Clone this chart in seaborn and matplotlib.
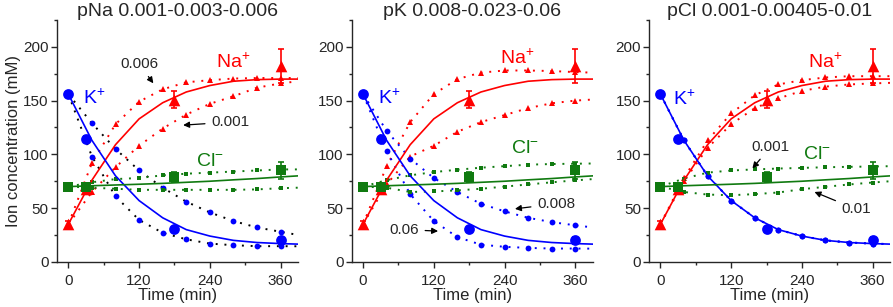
import numpy as np
import pandas as pd
import seaborn as sns
import matplotlib.pyplot as plt
from matplotlib.ticker import MultipleLocator

# model time grid and experimental time points
t_model = [0, 40, 80, 120, 160, 200, 240, 280, 320, 360, 390]
t_exp = [0, 30, 180, 360]

# experimental data (same in every panel)
na_exp = [35, 68, 151, 182]
na_err = [3, 4, 8, 16]
k_exp = [156, 114, 31, 20]
k_err = [0, 0, 0, 3]
cl_exp = [70, 70, 79, 85]
cl_err = [3, 2, 5, 8]

# fitted model (solid lines)
na_fit = [35, 76, 109, 133, 148, 158, 164, 168, 169.5, 170, 170]
k_fit = [156, 113, 80, 57, 41, 30, 24, 20, 18, 17, 16.5]
cl_fit = [70, 70.8, 71.5, 72.2, 73, 74, 75, 76.3, 77.5, 79, 80]

# panel 1: pNa varied
pna_na_hi = [35, 92, 128, 149, 160.5, 167, 169, 170.5, 171, 171, 171]
pna_na_lo = [35, 65, 88, 108, 124, 137, 147, 154, 162, 166, 168]
pna_k_hi = [156, 129, 105, 85, 69, 56, 46, 38, 32, 28, 25]
pna_k_lo = [156, 98, 61, 39, 27, 21, 17, 15.5, 14.6, 14.6, 14.5]
pna_cl_hi = [70, 74, 77, 78, 80.5, 82, 83, 84, 85, 86, 86]
pna_cl_lo = [70, 69, 68, 67, 67, 67, 67, 67, 67.4, 68.5, 69]

# panel 2: pK varied
pk_na_hi = [35, 89, 130, 156, 170, 176, 178, 178, 177.5, 176.5, 176]
pk_na_lo = [35, 72, 98, 108, 121, 130, 136.5, 143, 147.5, 150, 151]
pk_k_hi = [156, 122, 96, 78, 65, 54, 47, 41, 37, 34, 32]
pk_k_lo = [156, 103, 63, 38, 23, 16, 14, 13, 12.4, 12.4, 12.3]
pk_cl_hi = [70, 76, 80.5, 83.5, 85.7, 87.6, 89, 90.4, 91, 91.3, 91.5]
pk_cl_lo = [70, 69, 65, 65.5, 66.5, 68, 70, 72, 74, 75.8, 77]

# panel 3: pCl varied
pcl_na_hi = [35, 78, 113, 138, 155, 165, 169, 171.5, 172.7, 172.7, 172.7]
pcl_na_lo = [35, 75, 106, 128, 143, 152, 159, 163, 165, 166, 166.5]
pcl_k_hi = [156, 113, 80, 57, 41, 30, 24, 20, 18, 17, 16.5]
pcl_k_lo = [156, 113, 80, 57, 41, 30, 24, 20, 18, 17, 16.5]
pcl_cl_hi = [70, 77.5, 83, 85, 86, 86.8, 87.4, 88, 88.4, 88.7, 89]
pcl_cl_lo = [70, 65, 62.6, 62, 63, 64.5, 67.6, 69.8, 72, 73.8, 75]

titles = ["pNa 0.001-0.003-0.006", "pK 0.008-0.023-0.06", "pCl 0.001-0.00405-0.01"]

RED = "#ff0000"
BLUE = "#0000ff"
GREEN = "#107a10"

sns.set_style("ticks")
plt.rcParams['font.family'] = ['Liberation Sans', 'DejaVu Sans']
plt.rcParams['mathtext.fontset'] = 'custom'
plt.rcParams['mathtext.rm'] = 'Liberation Sans'
plt.rcParams['mathtext.it'] = 'Liberation Sans'

fig = plt.figure(figsize=(8.93, 3.07), dpi=100)
lefts = [0.064, 0.394, 0.727]
axes = [fig.add_axes([l, 0.147, 0.27, 0.788]) for l in lefts]

panels = [
    (pna_na_hi, pna_na_lo, pna_k_hi, pna_k_lo, pna_cl_hi, pna_cl_lo, "black"),
    (pk_na_hi, pk_na_lo, pk_k_hi, pk_k_lo, pk_cl_hi, pk_cl_lo, BLUE),
    (pcl_na_hi, pcl_na_lo, pcl_k_hi, pcl_k_lo, pcl_cl_hi, pcl_cl_lo, BLUE),
]

dot_style = (0, (1, 3.5))
mk_idx = list(range(1, 10))

for ax, title, p in zip(axes, titles, panels):
    na_hi, na_lo, k_hi, k_lo, cl_hi, cl_lo, k_dot_color = p

    # dotted sensitivity curves
    for ys, c, lc, m, ms in [(na_hi, RED, RED, '^', 4.5), (na_lo, RED, RED, '^', 4.5),
                             (k_hi, BLUE, k_dot_color, 'o', 4.2), (k_lo, BLUE, k_dot_color, 'o', 4.2),
                             (cl_hi, GREEN, GREEN, 's', 3.5), (cl_lo, GREEN, GREEN, 's', 3.5)]:
        sns.lineplot(x=t_model, y=ys, ax=ax, color=lc, linestyle=dot_style, lw=1.4,
                     marker=m, markevery=mk_idx, markersize=ms, markerfacecolor=c,
                     markeredgecolor=c, markeredgewidth=0, zorder=2)

    # fitted curves
    for ys, c in [(na_fit, RED), (k_fit, BLUE), (cl_fit, GREEN)]:
        sns.lineplot(x=t_model, y=ys, ax=ax, color=c, lw=1.2, zorder=3)

    # experimental data
    for ys, err, c, m, sz in [(na_exp, na_err, RED, '^', 70), (k_exp, k_err, BLUE, 'o', 60),
                              (cl_exp, cl_err, GREEN, 's', 42)]:
        ax.errorbar(t_exp, ys, yerr=err, fmt='none', ecolor=c, elinewidth=1.2,
                    capsize=2.5, capthick=1.2, zorder=4)
        sns.scatterplot(x=t_exp, y=ys, ax=ax, color=c, marker=m, s=sz,
                        edgecolor=c, linewidth=0, zorder=5)

    ax.set_xlim(-19, 390)
    ax.set_ylim(0, 225)
    ax.xaxis.set_major_locator(MultipleLocator(120))
    ax.xaxis.set_minor_locator(MultipleLocator(60))
    ax.yaxis.set_major_locator(MultipleLocator(50))
    ax.yaxis.set_minor_locator(MultipleLocator(25))
    ax.tick_params(which='major', direction='out', length=4, width=1, labelsize=11, pad=2)
    ax.tick_params(axis='x', which='major', pad=5)
    ax.tick_params(which='minor', direction='out', length=2.5, width=1)
    for s in ['top', 'right']:
        ax.spines[s].set_visible(False)
    for s in ['left', 'bottom']:
        ax.spines[s].set_linewidth(1)
    ax.set_title(title, fontsize=14, pad=3)
    ax.set_xlabel("Time (min)", fontsize=12, labelpad=0)
    ax.set_ylabel("")

axes[0].set_ylabel("Ion concentration (mM)", fontsize=12, labelpad=2)

# ion labels
ion_pos = [((280, 186), (25, 152), (240, 93)),
           ((262, 190), (25, 152), (275, 105)),
           ((280, 186), (22, 151), (265, 100))]
for ax, (na_p, k_p, cl_p) in zip(axes, ion_pos):
    ax.text(*na_p, r"Na$^{+}$", color=RED, fontsize=14, ha='center', va='center')
    ax.text(*k_p, r"K$^{+}$", color=BLUE, fontsize=14, ha='left', va='center')
    ax.text(*cl_p, r"Cl$^{-}$", color=GREEN, fontsize=14, ha='center', va='center')

arrow = dict(arrowstyle='-|>', color='black', lw=0.9, mutation_scale=9)
axes[0].annotate("0.006", xy=(147, 164), xytext=(120, 184), fontsize=11,
                 ha='center', va='center', arrowprops=arrow)
axes[0].annotate("0.001", xy=(190, 127), xytext=(242, 130), fontsize=11,
                 ha='left', va='center', arrowprops=arrow)
axes[1].annotate("0.008", xy=(253, 49), xytext=(295, 54), fontsize=11,
                 ha='left', va='center', arrowprops=arrow)
axes[1].annotate("0.06", xy=(132, 28.5), xytext=(70, 30), fontsize=11,
                 ha='center', va='center', arrowprops=arrow)
axes[2].annotate("0.001", xy=(153, 85), xytext=(187, 107), fontsize=11,
                 ha='center', va='center', arrowprops=arrow)
axes[2].annotate("0.01", xy=(257, 66), xytext=(332, 49), fontsize=11,
                 ha='center', va='center', arrowprops=arrow)

fig.savefig("out.png", dpi=100)
